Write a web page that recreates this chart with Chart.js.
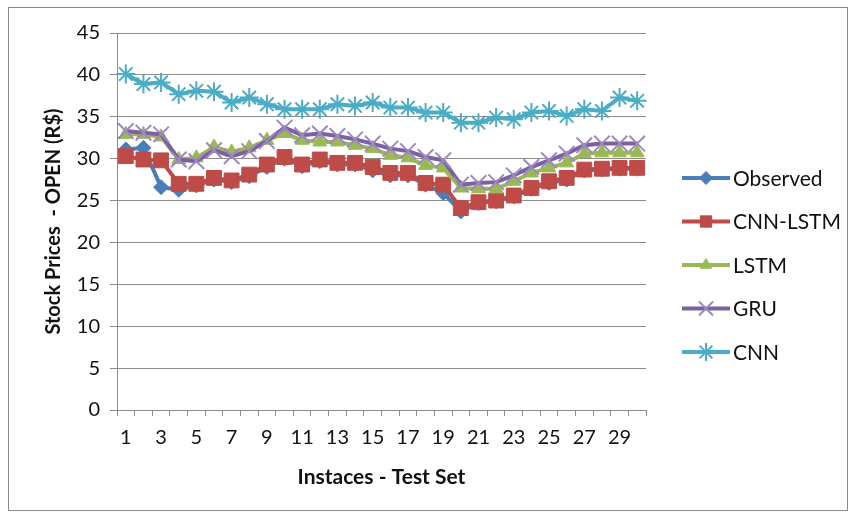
<!DOCTYPE html>
<html>
<head>
<meta charset="utf-8">
<script src="https://cdn.jsdelivr.net/npm/chart.js@4.4.1/dist/chart.umd.min.js"></script>
<style>
  html, body { margin: 0; padding: 0; background: #ffffff; }
  #wrap { width: 851px; height: 518px; }
</style>
</head>
<body>
<div id="wrap"><canvas id="chart" width="851" height="518"></canvas></div>
<script>
// Test-set instances (x categories)
const instances = ['1','2','3','4','5','6','7','8','9','10','11','12','13','14','15',
                   '16','17','18','19','20','21','22','23','24','25','26','27','28','29','30'];

// Opening price series, R$
const observed = [31.1, 31.3, 26.6, 26.3, 26.8, 27.5, 27.2, 27.9, 29.0, 30.0,
                  29.1, 29.7, 29.3, 29.3, 28.6, 28.0, 28.0, 26.9, 25.9, 23.7,
                  24.7, 24.9, 25.5, 26.4, 27.1, 27.5, 28.6, 28.7, 28.8, 28.8];
const cnnLstm  = [30.3, 29.9, 29.8, 27.0, 27.0, 27.7, 27.4, 28.1, 29.3, 30.2,
                  29.3, 29.9, 29.5, 29.5, 29.0, 28.3, 28.3, 27.1, 26.9, 24.1,
                  24.8, 25.0, 25.6, 26.5, 27.3, 27.7, 28.7, 28.8, 28.9, 28.9];
const lstm     = [32.9, 32.9, 32.6, 29.9, 30.1, 31.4, 30.8, 31.3, 32.2, 33.0,
                  32.2, 32.0, 32.0, 31.6, 31.2, 30.4, 30.1, 29.2, 28.9, 26.5,
                  26.4, 26.4, 27.3, 28.3, 28.9, 29.5, 30.6, 30.7, 30.7, 30.7];
const gru      = [33.3, 33.1, 32.9, 29.9, 29.7, 31.0, 30.3, 30.9, 32.1, 33.7,
                  32.8, 33.0, 32.7, 32.3, 31.8, 31.2, 30.9, 30.2, 29.8, 26.9,
                  27.1, 27.2, 28.0, 29.0, 29.8, 30.6, 31.6, 31.8, 31.8, 31.8];
const cnn      = [40.1, 38.9, 39.1, 37.7, 38.1, 38.0, 36.7, 37.3, 36.5, 35.9,
                  35.9, 35.9, 36.5, 36.3, 36.7, 36.1, 36.1, 35.5, 35.5, 34.3,
                  34.3, 34.9, 34.7, 35.5, 35.7, 35.1, 35.9, 35.7, 37.3, 36.9];

// Y-axis tick values
const priceTicks = [0, 5, 10, 15, 20, 25, 30, 35, 40, 45];

const FONT = 'Lato, "Liberation Sans", sans-serif';
const GRID = '#8c8c8c';

function series(label, data, color, markerFill, markerLine, style, radius, legendRadius, markerWidth, order) {
  return {
    label, data, order,
    borderColor: color,
    backgroundColor: color,
    borderWidth: 4,
    tension: 0,
    pointStyle: style,
    pointRadius: radius,
    pointHoverRadius: radius,
    pointBackgroundColor: markerFill,
    pointBorderColor: markerLine,
    pointBorderWidth: markerWidth,
    legendRadius
  };
}

// Frame around the whole figure
const framePlugin = {
  id: 'frame',
  beforeDraw(chart) {
    const ctx = chart.ctx;
    ctx.save();
    ctx.fillStyle = '#ffffff';
    ctx.fillRect(0, 0, chart.width, chart.height);
    ctx.strokeStyle = '#8a8a8a';
    ctx.lineWidth = 1;
    ctx.strokeRect(8.5, 7.5, 839, 503);
    ctx.restore();
  }
};

// Legend on the right: line sample with its marker, then the series name
const sideLegend = {
  id: 'sideLegend',
  afterDraw(chart) {
    const ctx = chart.ctx;
    const x0 = chart.chartArea.right + 36;
    const x1 = x0 + 48;
    chart.data.datasets.forEach((ds, i) => {
      const y = 178 + i * 43.5;
      ctx.save();
      ctx.strokeStyle = ds.borderColor;
      ctx.lineWidth = 4;
      ctx.beginPath();
      ctx.moveTo(x0, y);
      ctx.lineTo(x1, y);
      ctx.stroke();
      ctx.fillStyle = ds.pointBackgroundColor;
      ctx.strokeStyle = ds.pointBorderColor;
      ctx.lineWidth = ds.pointBorderWidth;
      Chart.helpers.drawPoint(ctx, {
        pointStyle: ds.pointStyle, rotation: 0,
        radius: ds.legendRadius, borderWidth: ds.pointBorderWidth
      }, (x0 + x1) / 2, y);
      ctx.fillStyle = '#111111';
      ctx.font = '21px ' + FONT;
      ctx.textBaseline = 'middle';
      ctx.textAlign = 'left';
      ctx.fillText(ds.label, x1 + 3, y + 1);
      ctx.restore();
    });
  }
};

new Chart(document.getElementById('chart'), {
  type: 'line',
  data: {
    labels: instances,
    datasets: [
      series('Observed', observed, '#4a7ebb', '#4a7ebb', '#4a7ebb', 'rectRot', 7.5, 6.5, 1, 5),
      series('CNN-LSTM', cnnLstm, '#be4b48', '#be4b48', '#be4b48', 'rect', 10.5, 8, 1, 4),
      series('LSTM', lstm, '#98b954', '#98b954', '#98b954', 'triangle', 8, 6.5, 1, 3),
      series('GRU', gru, '#7d60a0', '#9d88c4', '#9d88c4', 'crossRot', 11, 10, 2, 2),
      series('CNN', cnn, '#4bacc6', '#4bacc6', '#4bacc6', 'star', 9.5, 9, 2, 1)
    ]
  },
  options: {
    responsive: false,
    animation: false,
    layout: { padding: { left: 42, right: 205, top: 33, bottom: 28 } },
    plugins: {
      legend: { display: false },
      tooltip: { enabled: false }
    },
    scales: {
      x: {
        type: 'category',
        offset: true,
        grid: {
          display: true, drawOnChartArea: false, drawTicks: true,
          tickLength: 6, color: GRID, offset: true
        },
        border: { display: true, color: GRID, width: 1 },
        ticks: {
          autoSkip: false, maxRotation: 0, minRotation: 0,
          color: '#111111', padding: 10,
          font: { family: FONT, size: 20 },
          callback: (v, i) => (i % 2 === 0 ? instances[i] : '')
        },
        title: {
          display: true, text: 'Instaces - Test Set', color: '#111111',
          font: { family: FONT, size: 21, weight: 'bold' },
          padding: { top: 8, bottom: 0 }
        },
        afterFit: (s) => { s.height = 80; }
      },
      y: {
        min: 0, max: 45,
        afterBuildTicks: (s) => { s.ticks = priceTicks.map(v => ({ value: v })); },
        grid: { color: GRID, tickLength: 7, drawTicks: true },
        border: { display: true, color: GRID, width: 1 },
        ticks: {
          color: '#111111', padding: 10,
          font: { family: FONT, size: 20 }
        },
        title: {
          display: true, text: 'Stock Prices  - OPEN (R$)', color: '#111111',
          font: { family: FONT, size: 20, weight: 'bold' },
          padding: { top: 0, bottom: 4 }
        },
        afterFit: (s) => { s.width = 75; }
      }
    }
  },
  plugins: [framePlugin, sideLegend]
});
</script>
</body>
</html>
